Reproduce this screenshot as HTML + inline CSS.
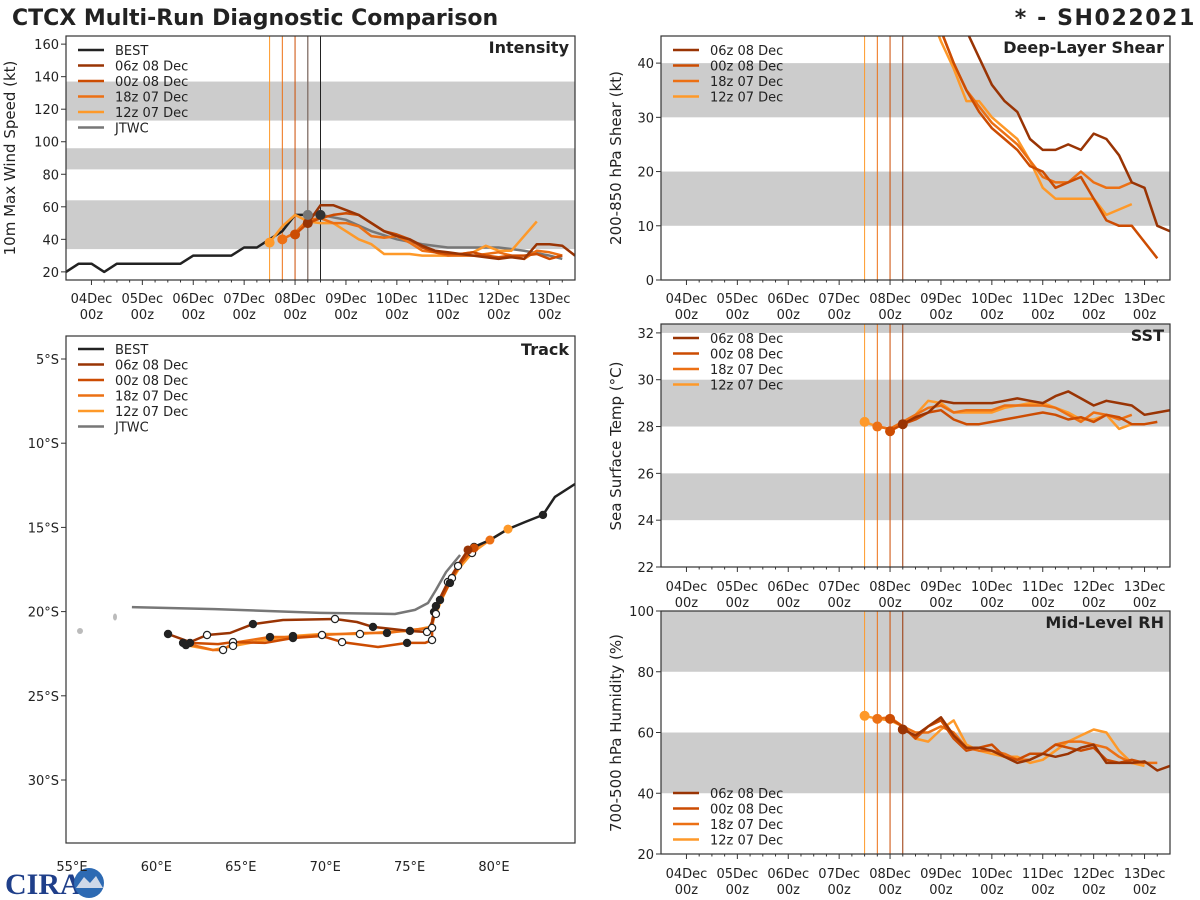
<!DOCTYPE html>
<html><head><meta charset="utf-8"><style>
body{margin:0;background:#fff;}
svg{display:block;font-family:"DejaVu Sans","Liberation Sans",sans-serif;}
</style></head><body>
<svg id="c" width="1200" height="900" viewBox="0 0 1200 900" xmlns="http://www.w3.org/2000/svg">
<text x="12" y="25" font-size="22" font-weight="bold" fill="#222">CTCX Multi-Run Diagnostic Comparison</text>
<text x="1196" y="25" font-size="22" font-weight="bold" fill="#222" text-anchor="end" letter-spacing="1.6">* - SH022021</text>
<g>
<text x="5" y="894" font-size="30" font-weight="bold" fill="#1f3f8a" font-family="Liberation Serif, serif">CIRA</text>
<circle cx="89" cy="883" r="15" fill="#2d6ab3"/>
<path d="M76 888 L84 877 L90 883 L96 876 L103 888 Z" fill="#cfd8e8"/>
</g>
</svg>
<script>
const svg=document.getElementById('c');
const NS='http://www.w3.org/2000/svg';
function el(tag,attrs,parent){const e=document.createElementNS(NS,tag);for(const k in attrs)e.setAttribute(k,attrs[k]);(parent||svg).appendChild(e);return e;}

// ---------- data ----------
const runNames=['06z 08 Dec','00z 08 Dec','18z 07 Dec','12z 07 Dec'];
const runColors=['#993404','#cc4c02','#ec7014','#fe9929'];
const runStarts=[4.25,4.0,3.75,3.5]; // days from 04Dec 00z
const dateLabels=['04Dec','05Dec','06Dec','07Dec','08Dec','09Dec','10Dec','11Dec','12Dec','13Dec'];

const bestStart=-0.5;
const bestWind=[20,25,25,20,25,25,25,25,25,25,30,30,30,30,35,35,40,45,55,55,55];
const jtwcTimes=[4.25,4.5,5.0,5.5,6.0,6.5,7.0,8.0,8.5,9.0,9.25];
const jtwcWind=[55,55,52,45,40,37,35,35,33,30,28];
const wind06z08=[50,61,61,58,55,50,45,42,40,36,33,32,31,30,29,28,29,28,37,37,36,30];
const wind00z08=[43,50,53,55,56,55,50,45,43,40,35,32,31,31,32,30,29,30,30,31,28,30];
const wind18z07=[40,44,52,53,50,50,48,42,41,42,38,33,32,30,30,30,31,32,30,28,33,32,30];
const wind12z07=[38,48,55,51,50,50,45,40,37,31,31,31,30,30,30,31,32,36,33,33,42,51];

const shearStarts=[4.25,4.5,4.5,4.5];
const shear06z08=[80,72,64,56,50,46,41,36,33,31,26,24,24,25,24,27,26,23,18,17,10,9,13];
const shear00z08=[60,52,46,40,35,31,28,26,24,21,20,17,18,19,15,11,10,10,7,4];
const shear18z07=[60,52,46,40,35,32,29,27,25,22,19,18,18,20,18,17,17,18];
const shear12z07=[58,50,44,39,33,33,30,28,26,22,17,15,15,15,15,12,13,14];

const sst06z08=[28.1,28.4,28.6,29.1,29.0,29.0,29.0,29.0,29.1,29.2,29.1,29.0,29.3,29.5,29.2,28.9,29.1,29.0,28.9,28.5,28.6,28.7];
const sst00z08=[27.8,28.1,28.3,28.6,28.7,28.3,28.1,28.1,28.2,28.3,28.4,28.5,28.6,28.5,28.3,28.4,28.2,28.5,28.4,28.1,28.1,28.2];
const sst18z07=[28.0,27.9,28.2,28.5,28.8,28.9,28.6,28.7,28.7,28.7,28.9,28.9,28.9,28.9,28.8,28.5,28.2,28.6,28.5,28.3,28.5];
const sst12z07=[28.2,28.0,27.9,28.2,28.5,29.1,29.0,28.6,28.6,28.6,28.6,28.8,28.9,29.0,29.0,28.8,28.6,28.3,28.3,28.5,27.9,28.1];

const rh06z08=[61,59,62,65,59,55,55,54,52,50,51,53,52,53,55,56,50,50,50,50.5,47.5,49];
const rh00z08=[64.5,62,58,62,64,58,54,55,56,52,51,53,53,56,55,54,55,51,50,51,50];
const rh18z07=[64.5,65,62,60,60,62,60,55,54,54,53,51,51,53,56,57,57,56,55,52,50,50,50];
const rh12z07=[65.5,64.5,64,62,58,57,61,64,56,54,53,52,52,50,51,54,57,59,61,60,54,50,49];

const bestLon=[84.80,83.61,82.90,81.84,80.83,79.76,78.82,78.34];
const bestLat=[12.42,13.19,14.26,14.68,15.10,15.75,16.16,16.52];
const jtwcLon=[58.55,63.47,69.69,74.13,75.32,76.09,76.56,77.16,77.99];
const jtwcLat=[19.73,19.85,20.08,20.14,19.90,19.49,18.72,17.65,16.64];
const lon06z08=[78.46,77.87,77.27,76.80,76.45,76.39,76.03,75.02,72.83,71.88,70.58,67.50,65.72,64.36,63.00,61.99,60.69];
const lat06z08=[16.34,17.23,18.24,19.19,20.02,20.50,21.21,21.15,20.91,20.62,20.44,20.50,20.74,21.27,21.39,21.81,21.33];
const lon00z08=[78.82,78.10,77.51,77.04,76.56,76.33,76.33,75.91,74.85,73.13,71.00,69.81,68.09,66.43,64.54,63.65,61.99,61.52];
const lat00z08=[16.22,17.06,18.01,18.96,19.67,20.50,21.69,21.86,21.86,22.10,21.81,21.45,21.57,21.86,21.81,21.93,21.86,21.69];
const lon18z07=[79.76,78.58,77.87,77.27,76.80,76.45,76.33,75.02,73.66,72.06,69.81,68.09,66.73,64.54,63.95,63.35,61.58];
const lat18z07=[15.75,16.34,17.29,18.30,19.31,20.20,20.97,21.09,21.27,21.27,21.39,21.51,21.51,21.86,22.28,22.28,21.86];
const lon12z07=[80.83,79.76,78.70,77.99,77.39,76.92,76.56,76.21,75.02,73.54,72.06,69.81,68.09,66.43,64.54,63.35,61.75];
const lat12z07=[15.10,15.75,16.52,17.35,18.30,19.25,20.14,20.91,21.15,21.21,21.33,21.33,21.45,21.69,22.04,22.28,21.99];

// ---------- helpers ----------
function makePanel(name,x0,y0,x1,y1,t0,t1,v0,v1){
  const p={x0,y0,x1,y1,
    X:t=>x0+(t-t0)/(t1-t0)*(x1-x0),
    Y:v=>y1-(v-v0)/(v1-v0)*(y1-y0)};
  const cp=el('clipPath',{id:'clip-'+name});
  el('rect',{x:x0,y:y0,width:x1-x0,height:y1-y0},cp);
  p.g=el('g',{'clip-path':'url(#clip-'+name+')'});
  
  
  return p;
}
function bands(p,list){
  list.forEach(b=>{const r=el('rect',{x:p.x0,y:p.Y(b[1]),width:p.x1-p.x0,height:p.Y(b[0])-p.Y(b[1]),fill:'#cccccc'},p.g);
    
    });
}
function frame(p,name){
  const r=el('rect',{x:p.x0,y:p.y0,width:p.x1-p.x0,height:p.y1-p.y0,fill:'none',stroke:'#333','stroke-width':1.2});
  
  
}
function yTicks(p,ticks,fmt,name){
  ticks.forEach(v=>{const y=p.Y(v);
    el('line',{x1:p.x0-5,x2:p.x0,y1:y,y2:y,stroke:'#333'});
    const t=el('text',{x:p.x0-7,y:y+5,'font-size':13,'text-anchor':'end',fill:'#222'});
    
    
    t.textContent=fmt?fmt(v):v;});
}
function dateTicks(p,ly,name){
  dateLabels.forEach((d,i)=>{const x=p.X(i);
    el('line',{x1:x,x2:x,y1:p.y1,y2:p.y1+5,stroke:'#333'});
    for(let h=1;h<4;h++){const xm=p.X(i+h*0.25);if(xm<p.x1)el('line',{x1:xm,x2:xm,y1:p.y1,y2:p.y1+2.5,stroke:'#333'});}
    const t=el('text',{x:x,y:ly,'font-size':13,'text-anchor':'middle',fill:'#222'});
    
    
    t.textContent=d;
    const t2=el('text',{x:x,y:ly+16,'font-size':13,'text-anchor':'middle',fill:'#222'});
    
    
    t2.textContent='00z';});
}
function yTitle(x,y,txt,name){
  const t=el('text',{x:x,y:y,'font-size':15,'text-anchor':'middle',fill:'#222',transform:'rotate(-90 '+x+' '+y+')'});
  
  
  t.textContent=txt;
}
function panelTitle(p,txt,name){
  const t=el('text',{x:p.x1-6,y:p.y0+17,'font-size':16,'font-weight':'bold','text-anchor':'end',fill:'#222'});
  
  
  t.textContent=txt;
}
function series(p,start,vals,color,w,name){
  const pts=vals.map((v,i)=>p.X(start+i*0.25).toFixed(1)+','+p.Y(v).toFixed(1)).join(' ');
  const l=el('polyline',{points:pts,fill:'none',stroke:color,'stroke-width':w||2.5,'stroke-linejoin':'round'},p.g);
  
  
}
function startDot(p,t,v,color,name){
  const c=el('circle',{cx:p.X(t),cy:p.Y(v),r:5,fill:color},p.g);
  
  
}
function vlines(p,extra){
  runStarts.forEach((t,i)=>{const x=p.X(t);
    const l=el('line',{x1:x,x2:x,y1:p.y0,y2:p.y1,stroke:runColors[i],'stroke-width':1},p.g);
    
    });
  (extra||[]).forEach(e=>{const x=p.X(e[0]);
    const l=el('line',{x1:x,x2:x,y1:p.y0,y2:p.y1,stroke:e[1],'stroke-width':1},p.g);
    
    });
}
function legend(x,y,entries,name){
  const g=el('g',{});
  
  
  entries.forEach((e,i)=>{const yy=y+i*15.5;
    el('line',{x1:x,x2:x+26,y1:yy,y2:yy,stroke:e[1],'stroke-width':2.5},g);
    const t=el('text',{x:x+37,y:yy+5,'font-size':13,fill:'#222'},g);
    
    
    t.textContent=e[0];});
}
const runEntries=runNames.map((n,i)=>[n,runColors[i]]);
const runW=[wind06z08,wind00z08,wind18z07,wind12z07];

// ---------- intensity ----------
const pI=makePanel('intensity',66,36,575,280,-0.5,9.5,15,165);
bands(pI,[[34,64],[83,96],[113,137]]);
vlines(pI,[[4.25,'#777'],[4.5,'#222']]);
series(pI,bestStart,bestWind,'#222',2.5,'best-intensity-line');
{const pts=jtwcTimes.map((t,i)=>pI.X(t)+','+pI.Y(jtwcWind[i])).join(' ');
 const l=el('polyline',{points:pts,fill:'none',stroke:'#777','stroke-width':2.5},pI.g);
 
 }
for(let i=3;i>=0;i--){series(pI,runStarts[i],runW[i],runColors[i],2.5,'intensity-line-'+i);}
for(let i=3;i>=0;i--){startDot(pI,runStarts[i],runW[i][0],runColors[i],'intensity-start-dot');}
startDot(pI,4.25,55,'#777','jtwc-start-dot');
startDot(pI,4.5,55,'#333','best-last-dot');
frame(pI,'intensity');
yTicks(pI,[20,40,60,80,100,120,140,160],null,'intensity');
dateTicks(pI,303,'intensity');
yTitle(15,158,'10m Max Wind Speed (kt)','intensity-y-axis-title');
panelTitle(pI,'Intensity','intensity-panel-title');
legend(78,50,[['BEST','#222']].concat(runEntries).concat([['JTWC','#777']]),'intensity-legend');

// ---------- shear ----------
const pS=makePanel('shear',661,36,1170,280,-0.5,9.5,0,45);
bands(pS,[[10,20],[30,40]]);
vlines(pS);
const runS=[shear06z08,shear00z08,shear18z07,shear12z07];
for(let i=3;i>=0;i--)series(pS,shearStarts[i],runS[i],runColors[i],2.5,'shear-line-'+i);
frame(pS,'shear');
yTicks(pS,[0,10,20,30,40],null,'shear');
dateTicks(pS,303,'shear');
yTitle(621,158,'200-850 hPa Shear (kt)','shear-y-axis-title');
panelTitle(pS,'Deep-Layer Shear','shear-panel-title');
legend(673,50,runEntries,'shear-legend');

// ---------- SST ----------
const pT=makePanel('sst',661,324,1170,567,-0.5,9.5,22,32.38);
bands(pT,[[24,26],[28,30],[32,33]]);
vlines(pT);
const runT=[sst06z08,sst00z08,sst18z07,sst12z07];
for(let i=3;i>=0;i--)series(pT,runStarts[i],runT[i],runColors[i],2.5,'sst-line-'+i);
for(let i=3;i>=0;i--)startDot(pT,runStarts[i],runT[i][0],runColors[i],'sst-start-dot');
frame(pT,'sst');
yTicks(pT,[22,24,26,28,30,32],null,'sst');
dateTicks(pT,591,'sst');
yTitle(621,446,'Sea Surface Temp (°C)','sst-y-axis-title');
panelTitle(pT,'SST','sst-panel-title');
legend(673,338,runEntries,'sst-legend');

// ---------- RH ----------
const pR=makePanel('rh',661,611,1170,854,-0.5,9.5,20,100);
bands(pR,[[40,60],[80,100]]);
vlines(pR);
const runR=[rh06z08,rh00z08,rh18z07,rh12z07];
for(let i=3;i>=0;i--)series(pR,runStarts[i],runR[i],runColors[i],2.5,'rh-line-'+i);
for(let i=3;i>=0;i--)startDot(pR,runStarts[i],runR[i][0],runColors[i],'rh-start-dot');
frame(pR,'rh');
yTicks(pR,[20,40,60,80,100],null,'rh');
dateTicks(pR,878,'rh');
yTitle(621,733,'700-500 hPa Humidity (%)','rh-y-axis-title');
panelTitle(pR,'Mid-Level RH','rh-panel-title');
legend(673,793,runEntries,'rh-legend');

// ---------- track ----------
const tr={x0:66,y0:336,x1:575,y1:843,
  X:lon=>72+(lon-55)*16.88, Y:lat=>359+(lat-5)*16.84};
const trg=el('g',{});


[[80,631,3,3],[115,617,2,3.5]].forEach(b=>{const e=el('ellipse',{cx:b[0],cy:b[1],rx:b[2],ry:b[3],fill:'#bbb'},trg);
  
  });
function trackLine(lons,lats,color,w,name){
  const pts=lons.map((l,i)=>tr.X(l).toFixed(1)+','+tr.Y(lats[i]).toFixed(1)).join(' ');
  const p=el('polyline',{points:pts,fill:'none',stroke:color,'stroke-width':w,'stroke-linejoin':'round'},trg);
  
  
}
trackLine(jtwcLon,jtwcLat,'#777',2.5,'jtwc-track');
const tLon=[lon06z08,lon00z08,lon18z07,lon12z07],tLat=[lat06z08,lat00z08,lat18z07,lat12z07];
for(let i=3;i>=0;i--)trackLine(tLon[i],tLat[i],runColors[i],2.5,'track-'+i);
trackLine(bestLon,bestLat,'#222',2.5,'best-track');
function marker(lon,lat,filled){
  const c=el('circle',{cx:tr.X(lon),cy:tr.Y(lat),r:3.6,fill:filled?'#222':'#fff',stroke:'#222','stroke-width':1.2},trg);
  
  
}
for(let i=0;i<4;i++){const L=tLon[i],A=tLat[i];
  for(let k=2;k<L.length;k+=2)marker(L[k],A[k],(k/2)%2===0);}
[2,4,6].forEach((k,j)=>marker(bestLon[k],bestLat[k],j!==1));
for(let i=3;i>=0;i--){const c=el('circle',{cx:tr.X(tLon[i][0]),cy:tr.Y(tLat[i][0]),r:4.5,fill:runColors[i]},trg);
  
  }
{const fr=el('rect',{x:tr.x0,y:tr.y0,width:tr.x1-tr.x0,height:tr.y1-tr.y0,fill:'none',stroke:'#333','stroke-width':1.2});
 
 }
[5,10,15,20,25,30].forEach(la=>{const y=tr.Y(la);
  el('line',{x1:tr.x0-5,x2:tr.x0,y1:y,y2:y,stroke:'#333'});
  const t=el('text',{x:tr.x0-7,y:y+5,'font-size':13,'text-anchor':'end',fill:'#222'});
  
  
  t.textContent=la+'°S';});
[55,60,65,70,75,80].forEach(lo=>{const x=tr.X(lo);
  const t=el('text',{x:x,y:871,'font-size':13,'text-anchor':'middle',fill:'#222'});
  
  
  t.textContent=lo+'°E';});
{const t=el('text',{x:tr.x1-6,y:tr.y0+19,'font-size':16,'font-weight':'bold','text-anchor':'end',fill:'#222'});
 
 
 t.textContent='Track';}
legend(78,349,[['BEST','#222']].concat(runEntries).concat([['JTWC','#777']]),'track-legend');
</script>
</body></html>
